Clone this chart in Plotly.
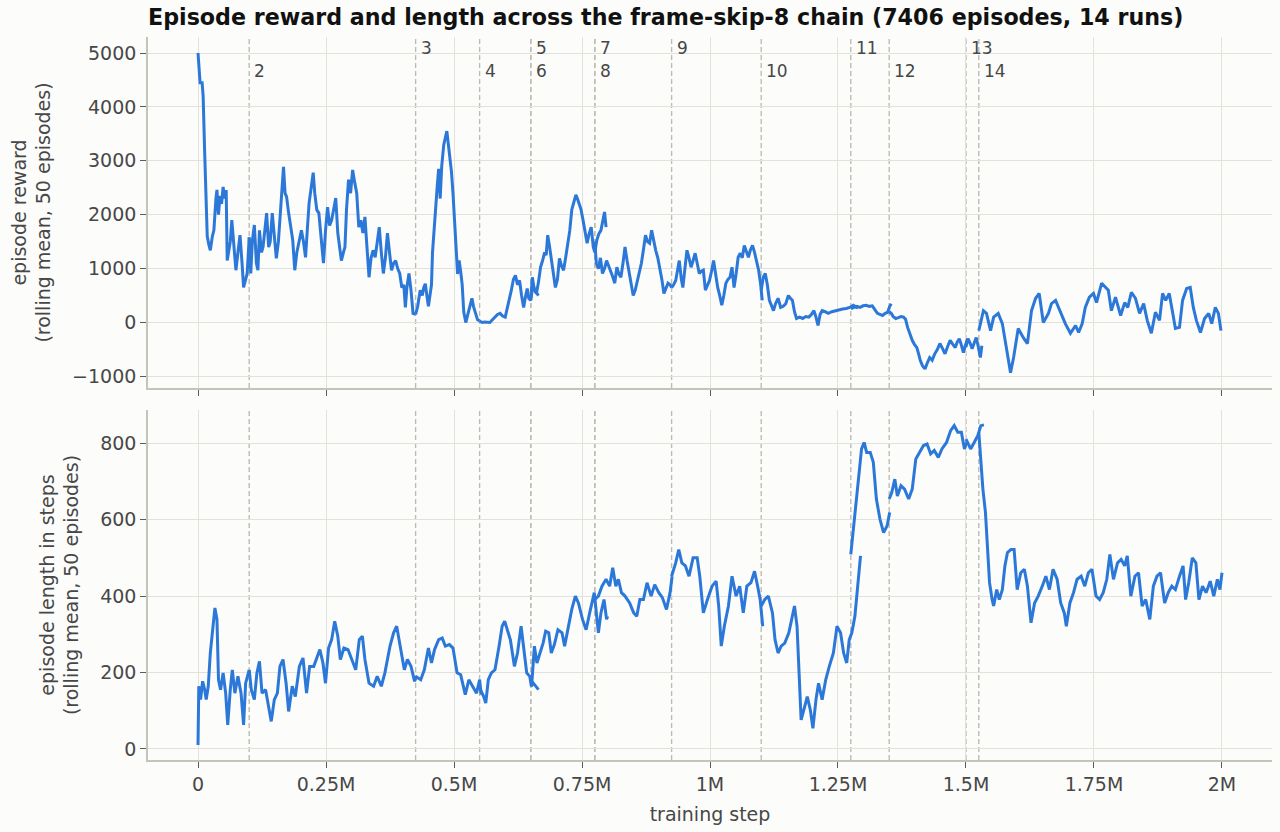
import plotly.graph_objects as go

# run boundaries (thousand steps) -- dashed lines and labels
run_ids = list(range(1, 15))
run_start_k = [0, 100, 425, 550, 650, 650, 775, 775, 925, 1100, 1275, 1350, 1500, 1525]

# episode reward, rolling mean of 50 episodes: (step in thousands, value)
reward_01 = [(0, 5000), (2, 4700), (4, 4450), (8, 4450), (10, 4200), (13, 3150), (16, 2000), (18, 1600),
             (21, 1450), (24, 1340), (28, 1600), (31, 1710), (35, 2300), (37, 2460), (40, 2000), (43, 2350),
             (46, 2200), (49, 2515), (52, 2300), (55, 2460), (57, 1150), (60, 1300), (63, 1500), (66, 1900),
             (70, 1400), (74, 970), (78, 1300), (82, 1620), (86, 1100), (89, 650), (93, 800), (96, 910), (100, 1580)]
reward_02 = [(100, 1580), (103, 910), (106, 1500), (110, 1810), (114, 1100), (117, 970), (120, 1710), (124, 1300),
             (127, 1400), (131, 1700), (134, 2030), (138, 1400), (141, 1500), (145, 2030), (149, 1600), (153, 1190),
             (157, 1500), (161, 2030), (164, 2500), (167, 2890), (170, 2400), (173, 2330), (177, 2030), (181, 1800),
             (185, 1530), (189, 970), (193, 1300), (198, 1530), (202, 1710), (206, 1500), (210, 1210), (214, 1800),
             (217, 2220), (221, 2500), (225, 2780), (228, 2400), (232, 2090), (236, 2030), (240, 1600), (245, 1100),
             (249, 1700), (253, 2140), (257, 1800), (261, 1900), (265, 2100), (269, 2310), (273, 1660), (277, 1400),
             (280, 1150), (284, 1300), (287, 1400), (290, 2090), (294, 2650), (298, 2400), (302, 2830), (306, 2600),
             (310, 2400), (314, 1770), (318, 1900), (322, 1660), (326, 1960), (330, 1400), (334, 840), (338, 1200),
             (342, 1340), (346, 1210), (350, 1500), (354, 1770), (358, 1300), (362, 910), (366, 1200), (370, 1660),
             (374, 1300), (378, 970), (382, 1100), (386, 1150), (390, 1000), (394, 910), (398, 650), (402, 700),
             (405, 280), (408, 650), (412, 910), (416, 600), (420, 170), (425, 150)]
reward_03 = [(425, 150), (429, 300), (434, 600), (438, 500), (441, 650), (444, 720), (447, 500), (450, 300),
             (453, 500), (456, 700), (458, 1300), (461, 1800), (464, 2100), (467, 2500), (470, 2850), (473, 2300),
             (476, 2900), (480, 3300), (483, 3450), (486, 3550), (489, 3300), (492, 3050), (495, 2800), (498, 2400),
             (501, 1800), (504, 1400), (507, 900), (510, 1150), (513, 950), (516, 700), (519, 200), (523, 0),
             (527, 150), (531, 300), (535, 450), (538, 300), (542, 150), (546, 50), (550, 30)]
reward_04 = [(550, 30), (555, 0), (560, 10), (565, 0), (570, 0), (575, 50), (580, 100), (585, 150), (590, 170),
             (595, 120), (600, 100), (604, 250), (608, 410), (612, 600), (616, 800), (620, 875), (624, 700),
             (628, 780), (632, 500), (636, 280), (640, 500), (643, 630), (646, 450), (650, 410), (654, 700),
             (658, 600), (662, 540), (665, 500)]
reward_05 = []
reward_06 = [(650, 450), (653, 840), (657, 600), (661, 540), (665, 750), (669, 1025), (673, 1150), (677, 1300),
             (680, 1250), (683, 1620), (686, 1450), (690, 1150), (694, 900), (698, 650), (702, 800), (706, 1190),
             (710, 1050), (714, 970), (718, 1200), (722, 1430), (726, 1700), (730, 2090), (734, 2250), (738, 2370),
             (741, 2300), (744, 2220), (748, 2100), (752, 1900), (756, 1700), (760, 1470), (764, 1650), (768, 1770),
             (772, 1400), (775, 1300), (779, 1530), (783, 1650), (787, 1710), (791, 1900), (794, 2050), (797, 1770)]
reward_07 = []
reward_08 = [(775, 1500), (778, 1100), (782, 1000), (786, 1200), (790, 910), (794, 1000), (798, 1150), (802, 1050),
             (806, 970), (810, 850), (814, 730), (818, 1025), (822, 900), (826, 840), (830, 1100), (834, 1400),
             (838, 1150), (842, 910), (846, 700), (850, 500), (854, 600), (858, 780), (862, 950), (866, 1100),
             (870, 1350), (874, 1620), (878, 1500), (882, 1470), (886, 1710), (890, 1500), (894, 1340), (898, 1200),
             (902, 1025), (906, 800), (910, 540), (914, 650), (918, 730), (922, 700), (925, 650)]
reward_09 = [(925, 650), (929, 700), (933, 780), (937, 1000), (940, 1150), (944, 800), (947, 650), (951, 1000),
             (955, 1340), (959, 1200), (963, 1025), (967, 1150), (971, 1285), (975, 1100), (979, 910), (983, 950),
             (987, 970), (991, 600), (995, 700), (999, 780), (1003, 950), (1007, 1150), (1011, 900), (1015, 650),
             (1019, 500), (1023, 320), (1027, 500), (1031, 730), (1035, 800), (1039, 840), (1043, 1025), (1047, 650),
             (1051, 900), (1055, 1210), (1059, 1285), (1063, 1200), (1067, 1430), (1071, 1300), (1075, 1210),
             (1079, 1350), (1083, 1430), (1087, 1300), (1091, 1150), (1095, 970), (1099, 700), (1102, 410)]
reward_10 = [(1100, 600), (1104, 840), (1108, 910), (1112, 700), (1116, 410), (1120, 300), (1124, 220), (1128, 350),
             (1133, 450), (1138, 280), (1143, 300), (1148, 350), (1153, 500), (1157, 450), (1161, 410), (1165, 200),
             (1169, 75), (1175, 100), (1181, 75), (1187, 110), (1193, 100), (1198, 150), (1203, 220), (1207, 100),
             (1211, -55), (1215, 150), (1219, 220), (1225, 200), (1231, 170), (1238, 200), (1245, 220), (1252, 240),
             (1259, 250), (1266, 260), (1273, 280), (1280, 320), (1287, 280), (1290, 300)]
reward_11 = [(1275, 260), (1281, 280), (1287, 300), (1293, 280), (1299, 310), (1305, 320), (1311, 300), (1317, 310),
             (1322, 250), (1327, 170), (1332, 150), (1337, 130), (1342, 170), (1347, 190), (1351, 300), (1354, 350)]
reward_12 = [(1350, 200), (1354, 170), (1358, 110), (1363, 75), (1368, 90), (1373, 110), (1378, 100), (1382, 60),
             (1386, -90), (1390, -200), (1395, -330), (1399, -400), (1404, -465), (1408, -600), (1411, -710),
             (1415, -800), (1420, -860), (1424, -760), (1429, -650), (1434, -700), (1439, -580), (1444, -500),
             (1449, -390), (1454, -480), (1459, -580), (1464, -450), (1469, -330), (1474, -400), (1479, -465),
             (1483, -360), (1487, -300), (1491, -420), (1495, -560), (1499, -420), (1503, -300)]
reward_13 = [(1500, -450), (1504, -300), (1508, -380), (1512, -485), (1516, -380), (1520, -280), (1524, -450),
             (1528, -650), (1531, -430)]
reward_14 = [(1525, -150), (1534, 220), (1540, 170), (1548, -150), (1554, 100), (1563, 170), (1571, -20),
             (1579, -520), (1587, -930), (1593, -650), (1602, -110), (1612, -280), (1620, -390), (1628, 220),
             (1636, 450), (1643, 540), (1651, 0), (1661, 170), (1667, 350), (1675, 410), (1685, 170), (1694, -20),
             (1704, -200), (1714, -55), (1720, -185), (1727, -20), (1733, 280), (1741, 470), (1749, 540), (1755, 370),
             (1765, 730), (1772, 650), (1778, 600), (1784, 220), (1792, 470), (1802, 130), (1810, 370), (1816, 280),
             (1823, 560), (1831, 450), (1839, 170), (1847, 350), (1854, 40), (1862, -200), (1870, 190), (1878, 40),
             (1884, 540), (1890, 410), (1897, 540), (1903, 220), (1909, -110), (1917, -90), (1923, 410), (1931, 630),
             (1938, 650), (1944, 280), (1950, 40), (1958, -185), (1966, 75), (1974, 170), (1980, -20), (1987, 280),
             (1993, 170), (1998, -150)]

# episode length in steps, rolling mean of 50 episodes: (step in thousands, value)
length_01 = [(0, 10), (1.5, 164), (5, 129), (9, 177), (13, 155), (16, 129), (20, 164), (24, 251), (28, 304),
             (33, 369), (37, 339), (40, 181), (44, 155), (49, 199), (54, 146), (58, 63), (63, 155), (67, 207),
             (72, 146), (78, 190), (84, 146), (89, 63), (93, 172), (100, 207)]
length_02 = [(100, 207), (104, 155), (110, 129), (115, 199), (120, 229), (125, 146), (132, 155), (137, 120),
             (143, 72), (149, 129), (155, 146), (160, 216), (166, 234), (172, 172), (177, 98), (184, 164), (190, 137),
             (198, 216), (205, 238), (212, 146), (218, 216), (226, 216), (233, 242), (238, 260), (244, 225), (249, 172),
             (255, 264), (261, 286), (267, 334), (273, 295), (278, 234), (285, 264), (293, 260), (300, 234), (308, 207),
             (315, 286), (321, 295), (326, 234), (334, 172), (343, 164), (350, 190), (358, 164), (365, 199), (375, 269),
             (382, 304), (388, 321), (395, 269), (403, 207), (409, 234), (416, 216), (423, 177), (427, 190)]
length_03 = [(425, 190), (435, 181), (442, 207), (450, 264), (456, 225), (462, 260), (470, 286), (477, 290),
             (483, 269), (491, 273), (498, 264), (506, 199), (513, 194), (522, 142), (529, 181), (537, 164), (544, 146),
             (550, 181), (553, 142)]
length_04 = [(550, 160), (558, 137), (562, 120), (567, 181), (573, 199), (580, 207), (588, 269), (594, 321),
             (599, 334), (604, 312), (610, 286), (618, 216), (624, 251), (631, 321), (636, 269), (642, 199), (648, 190),
             (651, 164), (655, 172), (660, 164), (665, 155)]
length_05 = []
length_06 = [(650, 190), (652, 172), (657, 269), (662, 225), (668, 251), (674, 277), (679, 308), (685, 304),
             (690, 251), (696, 273), (703, 312), (711, 304), (716, 269), (722, 312), (730, 365), (737, 400), (743, 382),
             (751, 339), (758, 312), (765, 356), (771, 391), (774, 409), (778, 356), (782, 304), (787, 356), (793, 391),
             (798, 339), (800, 347)]
length_07 = []
length_08 = [(775, 391), (782, 400), (789, 426), (797, 444), (804, 426), (810, 474), (816, 426), (821, 444),
             (827, 409), (834, 400), (843, 382), (851, 356), (857, 347), (863, 391), (870, 391), (877, 435), (885, 400),
             (892, 430), (900, 409), (907, 396), (915, 365), (922, 409), (926, 452)]
length_09 = [(925, 452), (933, 487), (939, 522), (945, 487), (952, 479), (959, 452), (967, 500), (975, 500),
             (980, 452), (987, 356), (995, 391), (1004, 426), (1012, 439), (1017, 374), (1022, 269), (1028, 321),
             (1036, 374), (1043, 452), (1051, 400), (1058, 426), (1065, 356), (1072, 426), (1080, 435), (1087, 465),
             (1093, 426), (1098, 391), (1103, 321)]
length_10 = [(1100, 374), (1107, 391), (1114, 400), (1122, 356), (1127, 286), (1133, 251), (1139, 269), (1146, 277),
             (1154, 304), (1159, 339), (1165, 374), (1170, 321), (1174, 216), (1178, 76), (1185, 111), (1190, 137),
             (1196, 102), (1201, 54), (1207, 129), (1212, 172), (1219, 129), (1226, 181), (1233, 216), (1241, 251),
             (1248, 321), (1255, 304), (1261, 251), (1267, 225), (1272, 286), (1277, 304), (1283, 347), (1288, 426),
             (1294, 505)]
length_11 = [(1275, 509), (1281, 584), (1286, 662), (1291, 724), (1296, 785), (1301, 802), (1306, 776), (1313, 776),
             (1319, 750), (1325, 654), (1332, 601), (1339, 566), (1346, 584), (1351, 619)]
length_12 = [(1350, 654), (1355, 671), (1361, 706), (1366, 662), (1373, 689), (1380, 680), (1388, 654), (1395, 680),
             (1402, 759), (1409, 776), (1417, 794), (1424, 798), (1431, 772), (1438, 781), (1446, 763), (1453, 785),
             (1462, 802), (1470, 833), (1477, 846), (1484, 829), (1491, 829), (1497, 785), (1501, 802)]
length_13 = [(1500, 811), (1509, 785), (1516, 802), (1523, 820), (1529, 846), (1535, 848)]
length_14 = [(1525, 829), (1530, 741), (1533, 680), (1538, 619), (1542, 540), (1546, 435), (1551, 391), (1554, 374),
             (1560, 417), (1565, 391), (1571, 417), (1576, 479), (1581, 514), (1588, 522), (1594, 522), (1600, 417),
             (1607, 461), (1614, 470), (1620, 426), (1627, 330), (1634, 382), (1641, 400), (1649, 426), (1656, 452),
             (1663, 417), (1670, 470), (1678, 444), (1685, 382), (1692, 356), (1696, 321), (1703, 382), (1710, 409),
             (1717, 444), (1725, 452), (1732, 426), (1739, 461), (1746, 470), (1754, 400), (1761, 391), (1768, 409),
             (1775, 444), (1781, 509), (1788, 444), (1796, 487), (1803, 496), (1810, 479), (1815, 505), (1822, 400),
             (1830, 452), (1837, 461), (1844, 374), (1851, 391), (1859, 339), (1866, 426), (1873, 452), (1880, 461),
             (1888, 382), (1895, 409), (1902, 426), (1909, 417), (1917, 452), (1924, 479), (1929, 391), (1935, 435),
             (1942, 500), (1949, 487), (1955, 391), (1962, 426), (1969, 409), (1977, 439), (1984, 400), (1991, 444),
             (1996, 417), (2000, 461)]

reward_runs = [reward_01, reward_02, reward_03, reward_04, reward_05, reward_06, reward_07,
               reward_08, reward_09, reward_10, reward_11, reward_12, reward_13, reward_14]
length_runs = [length_01, length_02, length_03, length_04, length_05, length_06, length_07,
               length_08, length_09, length_10, length_11, length_12, length_13, length_14]

x_tickvals = [0, 250000, 500000, 750000, 1000000, 1250000, 1500000, 1750000, 2000000]
x_ticktext = ["0", "0.25M", "0.5M", "0.75M", "1M", "1.25M", "1.5M", "1.75M", "2M"]

LINE = "#2b78d8"
BG = "#fcfcfa"
GRID = "#e3e1da"
SPINE = "#c4c4b9"
TXT = "#474747"
FONT = "DejaVu Sans"

W, H = 1280, 832

fig = go.Figure()

for runs, xa, ya in [(reward_runs, "x", "y"), (length_runs, "x2", "y2")]:
    for pts in runs:
        if not pts:
            continue
        fig.add_trace(go.Scatter(
            x=[p[0] * 1000 for p in pts], y=[p[1] for p in pts],
            xaxis=xa, yaxis=ya, mode="lines",
            line=dict(color=LINE, width=3),
            showlegend=False, hoverinfo="skip"))

# dashed run boundaries in both panels, numbered in the top panel
shapes = []
annotations = []
for rid, start in zip(run_ids, run_start_k):
    if rid == 1:
        continue
    for xr, yr in [("x", "y domain"), ("x2", "y2 domain")]:
        shapes.append(dict(type="line", xref=xr, yref=yr, x0=start * 1000, x1=start * 1000, y0=0, y1=1,
                           line=dict(color="#bdbdb2", width=1.4, dash="5px,3px"), layer="below"))
    annotations.append(dict(x=start * 1000, xref="x", yref="y domain",
                            y=0.9687 if rid % 2 else 0.903, yanchor="middle",
                            xanchor="left", xshift=3, showarrow=False, text=str(rid),
                            font=dict(family=FONT, size=17, color=TXT)))

axis_common = dict(showgrid=True, gridcolor=GRID, gridwidth=1, zeroline=False, automargin=False,
                   showline=True, linecolor=SPINE, linewidth=1.6,
                   ticks="outside", ticklen=6, tickwidth=1.4, tickcolor="#5a5a5a",
                   tickfont=dict(family=FONT, size=19, color=TXT))
title_font = dict(family=FONT, size=19, color=TXT)

fig.update_layout(
    width=W, height=H,
    paper_bgcolor=BG, plot_bgcolor=BG,
    margin=dict(l=148, r=8, t=37, b=72),
    title=dict(text="<b>Episode reward and length across the frame-skip-8 chain (7406 episodes, 14 runs)</b>",
               x=148 / W, xanchor="left", y=1 - 17 / H, yanchor="middle",
               font=dict(family=FONT, size=22.2, color="#111111")),
    xaxis=dict(domain=[0, 1], anchor="y", range=[-97700, 2097700], tickvals=x_tickvals,
               showticklabels=False, **axis_common),
    xaxis2=dict(domain=[0, 1], anchor="y2", matches="x", range=[-97700, 2097700], tickvals=x_tickvals,
                ticktext=x_ticktext,
                title=dict(text="training step", standoff=14, font=title_font),
                **axis_common),
    yaxis=dict(domain=[0.5145, 1], anchor="x", range=[-1215, 5297],
               tickvals=[-1000, 0, 1000, 2000, 3000, 4000, 5000],
               title=dict(text="episode reward<br>(rolling mean, 50 episodes)", standoff=16, font=title_font),
               **axis_common),
    yaxis2=dict(domain=[0, 0.4841], anchor="x2", range=[-29, 887],
                tickvals=[0, 200, 400, 600, 800],
                title=dict(text="episode length in steps<br>(rolling mean, 50 episodes)", standoff=16,
                           font=title_font),
                **axis_common),
    shapes=shapes,
    annotations=annotations,
)

# drop the page's default body margin so the figure sits at the window's corner
fig.write_html("out.html", config={"displayModeBar": False},
               post_script="document.body.style.margin='0';")
